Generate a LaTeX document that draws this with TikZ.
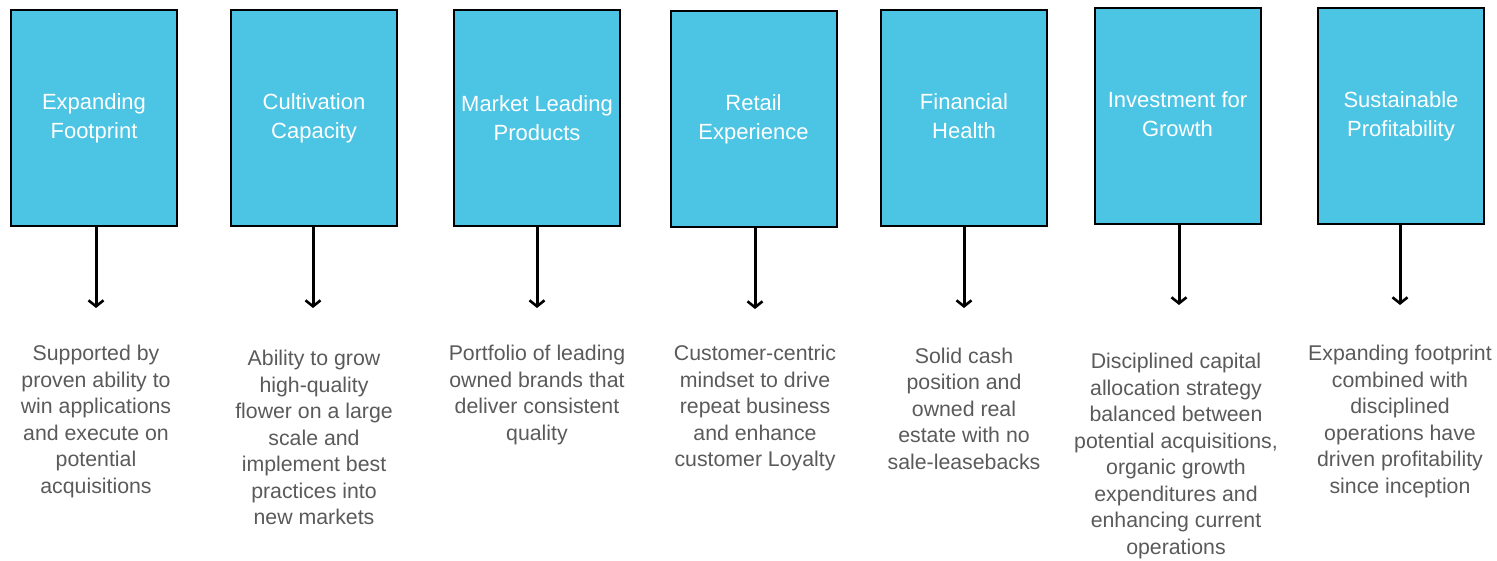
\documentclass[tikz,border=0pt]{standalone}
\usepackage{fontspec}
\setmainfont{Liberation Sans}
\usetikzlibrary{arrows.meta}
\definecolor{boxblue}{HTML}{4CC4E4}
\definecolor{bodygray}{HTML}{5A5A5A}
\begin{document}
\begin{tikzpicture}[x=1pt,y=-1pt,
  pillar/.style={draw=black,line width=2pt,fill=boxblue,minimum width=166pt,minimum height=216pt,inner sep=0pt,
    text=white,align=center,font=\fontsize{22}{29}\selectfont},
  desc/.style={text=bodygray,align=center,inner sep=0pt,font=\fontsize{21.3}{26.5}\selectfont},
  arr/.style={line width=3pt,-{Straight Barb[length=6pt,width=15pt,line width=2.6pt]}}]
\useasboundingbox (0,0) rectangle (1497,561);
\node[pillar] (b1) at (94,118) {Expanding\\Footprint\vphantom{p}};
\node[pillar] (b2) at (314,118) {Cultivation\\Capacity};
\node[pillar] (b3) at (537,118) {Market Leading\\Products};
\node[pillar] (b4) at (753.5,119) {Retail\\Experience};
\node[pillar] (b5) at (964,118) {Financial\\Health\vphantom{p}};
\node[pillar] (b6) at (1177.5,116) {Investment for\\Growth\vphantom{p}};
\node[pillar] (b7) at (1401,116) {Sustainable\\Profitability};
\coordinate (e1) at (96,308);
\coordinate (e2) at (313,308);
\coordinate (e3) at (537,308);
\coordinate (e4) at (755,309);
\coordinate (e5) at (964,308);
\coordinate (e6) at (1179,305);
\coordinate (e7) at (1400,305);
\foreach \i in {1,...,7} \draw[arr] (b\i.south -| e\i) -- (e\i);
\node[desc] (d1) at (96,421.5) {Supported by\\proven ability to\\win applications\\and execute on\\potential\\acquisitions};
\node[desc] (d2) at (314,437.5) {Ability to grow\\high-quality\\flower on a large\\scale and\\implement best\\practices into\\new markets};
\node[desc] (d3) at (537,395) {Portfolio of leading\\owned brands that\\deliver consistent\\quality};
\node[desc] (d4) at (755,408) {Customer-centric\\mindset to drive\\repeat business\\and enhance\\customer Loyalty};
\node[desc] (d5) at (964,408.5) {Solid cash\\position and\\owned real\\estate with no\\sale-leasebacks};
\node[desc] (d6) at (1176,456) {Disciplined capital\\allocation strategy\\balanced between\\potential acquisitions,\\organic growth\\expenditures and\\enhancing current\\operations};
\node[desc] (d7) at (1400,421.5) {Expanding footprint\\combined with\\disciplined\\operations have\\driven profitability\\since inception};
\end{tikzpicture}
\end{document}
